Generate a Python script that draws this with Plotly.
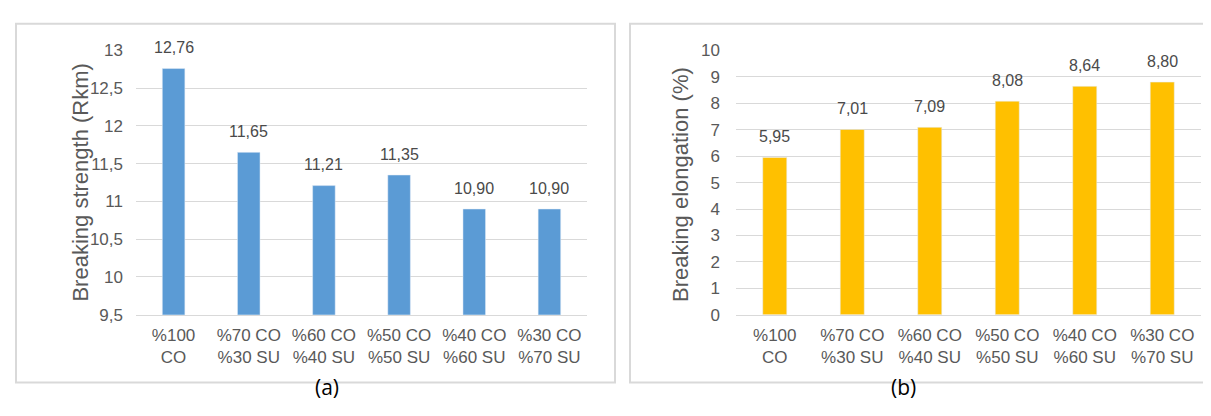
import plotly.graph_objects as go

categories = ["%100<br>CO", "%70 CO<br>%30 SU", "%60 CO<br>%40 SU",
              "%50 CO<br>%50 SU", "%40 CO<br>%60 SU", "%30 CO<br>%70 SU"]
strength = [12.76, 11.65, 11.21, 11.35, 10.90, 10.90]
elongation = [5.95, 7.01, 7.09, 8.08, 8.64, 8.80]

W, H = 1211, 416
def px(x): return x / W
def py(y): return (H - y) / H

TICK = "#595959"
GRID = "#d9d9d9"
FONT = "Liberation Sans, Arial, sans-serif"

fig = go.Figure()
fig.add_trace(go.Bar(x=categories, y=strength, marker_color="#5B9BD5", width=0.3,
                     xaxis="x", yaxis="y", showlegend=False))
fig.add_trace(go.Bar(x=categories, y=elongation, marker_color="#FFC000", width=0.31,
                     xaxis="x2", yaxis="y2", showlegend=False))

def fmt(v):
    return f"{v:.2f}".replace(".", ",")

annotations = []
for c, v in zip(categories, strength):
    annotations.append(dict(x=c, y=v, xref="x", yref="y", text=fmt(v), showarrow=False,
                            yshift=21, font=dict(size=16, color="#4a4a4a", family=FONT)))
for c, v in zip(categories, elongation):
    annotations.append(dict(x=c, y=v, xref="x2", yref="y2", text=fmt(v), showarrow=False,
                            yshift=21, font=dict(size=16, color="#4a4a4a", family=FONT)))

annotations += [
    dict(x=px(58), y=py(174), xref="paper", yref="paper", text="Breaking strength (Rkm)",
         textangle=-90, showarrow=False, font=dict(size=22, color=TICK, family=FONT)),
    dict(x=px(672), y=py(175), xref="paper", yref="paper", text="Breaking elongation (%)",
         textangle=-90, showarrow=False, font=dict(size=22, color=TICK, family=FONT)),
    dict(x=px(305), y=py(404), xref="paper", yref="paper", text="(a)", showarrow=False,
         font=dict(size=21, color="#000000", family="Open Sans, sans-serif")),
    dict(x=px(910), y=py(404), xref="paper", yref="paper", text="(b)", showarrow=False,
         font=dict(size=21, color="#000000", family="Open Sans, sans-serif")),
]

shapes = [
    dict(type="rect", xref="paper", yref="paper", x0=px(8), x1=px(607), y0=py(383), y1=py(7),
         line=dict(color=GRID, width=2), fillcolor="rgba(0,0,0,0)", layer="below"),
    dict(type="rect", xref="paper", yref="paper", x0=px(622), x1=px(1216), y0=py(383), y1=py(7),
         line=dict(color=GRID, width=2), fillcolor="rgba(0,0,0,0)", layer="below"),
]

xcommon = dict(type="category", showgrid=False, ticks="", showline=True, linecolor=GRID,
               linewidth=1, ticklabelstandoff=5,
               tickfont=dict(size=17, color=TICK, family=FONT), fixedrange=True)
ycommon = dict(showgrid=True, gridcolor=GRID, gridwidth=1, ticks="", zeroline=False,
               tickfont=dict(size=17, color=TICK, family=FONT), showline=False)

fig.update_layout(
    width=W, height=H, margin=dict(l=0, r=0, t=0, b=0),
    paper_bgcolor="white", plot_bgcolor="white", separators=",.",
    bargap=0.7,
    xaxis=dict(domain=[px(128), px(579)], anchor="y", **xcommon),
    yaxis=dict(domain=[py(312), py(35)], anchor="x", range=[9.5, 13], dtick=0.5,
               ticklabelstandoff=12, **ycommon),
    xaxis2=dict(domain=[px(728), px(1193)], anchor="y2", **xcommon),
    yaxis2=dict(domain=[py(312), py(35)], anchor="x2", range=[0, 10], dtick=1,
                ticklabelstandoff=15, **ycommon),
    annotations=annotations, shapes=shapes,
)

fig.write_html("out.html")
